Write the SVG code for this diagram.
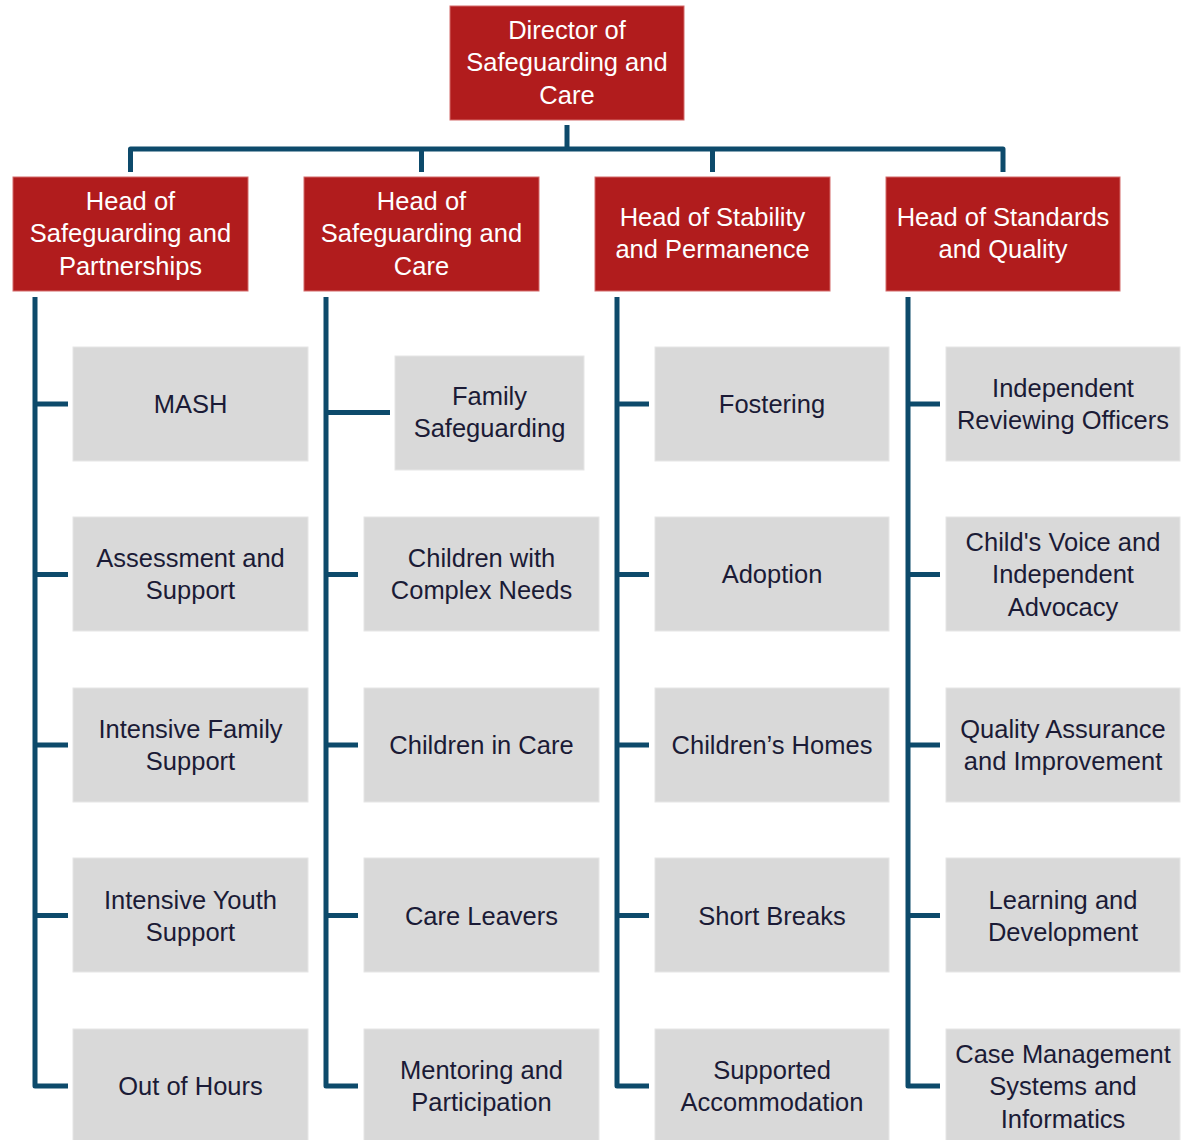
<svg xmlns="http://www.w3.org/2000/svg" width="1182" height="1140" viewBox="0 0 1182 1140">
<style>
.head rect{fill:#b11c1d;stroke:#d46a6a;stroke-width:1}
.head text{fill:#ffffff}
.unit rect{fill:#d9d9d9;stroke:#e6e6e6;stroke-width:1}
.unit text{fill:#1b1b36}
text{font-family:"Liberation Sans",Arial,sans-serif;font-size:25.5px;text-anchor:middle}
.conn path{fill:none;stroke:#0d4a6b;stroke-width:5;stroke-linejoin:round;stroke-linecap:butt}
</style>
<rect width="1182" height="1140" fill="#ffffff"/>
<g class="conn" id="connectors">
<path d="M567,125 V149"/>
<path d="M130.5,172 V149 H1003 V172"/>
<path d="M421.5,149 V172"/>
<path d="M712.5,149 V172"/>
<path d="M35,297 V1086 H68"/>
<path d="M35,404 H68"/><path d="M35,574.5 H68"/><path d="M35,745 H68"/><path d="M35,915.5 H68"/>
<path d="M326,297 V1086 H358"/>
<path d="M326,412.5 H390"/><path d="M326,574.5 H358"/><path d="M326,745 H358"/><path d="M326,915.5 H358"/>
<path d="M617,297 V1086 H649"/>
<path d="M617,404 H649"/><path d="M617,574.5 H649"/><path d="M617,745 H649"/><path d="M617,915.5 H649"/>
<path d="M908,297 V1086 H940"/>
<path d="M908,404 H940"/><path d="M908,574.5 H940"/><path d="M908,745 H940"/><path d="M908,915.5 H940"/>
</g>
<g class="head" id="director"><rect x="450" y="6" width="234" height="114"/><text x="567" y="39">Director of</text><text x="567" y="71">Safeguarding and</text><text x="567" y="104">Care</text></g>
<g class="head" id="head1"><rect x="13" y="177" width="235" height="114"/><text x="130.5" y="210">Head of</text><text x="130.5" y="242">Safeguarding and</text><text x="130.5" y="275">Partnerships</text></g>
<g class="head" id="head2"><rect x="304" y="177" width="235" height="114"/><text x="421.5" y="210">Head of</text><text x="421.5" y="242">Safeguarding and</text><text x="421.5" y="275">Care</text></g>
<g class="head" id="head3"><rect x="595" y="177" width="235" height="114"/><text x="712.5" y="226">Head of Stability</text><text x="712.5" y="258">and Permanence</text></g>
<g class="head" id="head4"><rect x="886" y="177" width="234" height="114"/><text x="1003" y="226">Head of Standards</text><text x="1003" y="258">and Quality</text></g>

<g class="unit" id="mash"><rect x="73" y="347" width="235" height="114"/><text x="190.5" y="413">MASH</text></g>
<g class="unit" id="assessment"><rect x="73" y="517" width="235" height="114"/><text x="190.5" y="567">Assessment and</text><text x="190.5" y="599">Support</text></g>
<g class="unit" id="ifs"><rect x="73" y="688" width="235" height="114"/><text x="190.5" y="738">Intensive Family</text><text x="190.5" y="770">Support</text></g>
<g class="unit" id="iys"><rect x="73" y="858" width="235" height="114"/><text x="190.5" y="909">Intensive Youth</text><text x="190.5" y="941">Support</text></g>
<g class="unit" id="ooh"><rect x="73" y="1029" width="235" height="114"/><text x="190.5" y="1095">Out of Hours</text></g>

<g class="unit" id="famsafe"><rect x="395" y="356" width="189" height="114"/><text x="489.5" y="405">Family</text><text x="489.5" y="437">Safeguarding</text></g>
<g class="unit" id="complex"><rect x="364" y="517" width="235" height="114"/><text x="481.5" y="567">Children with</text><text x="481.5" y="599">Complex Needs</text></g>
<g class="unit" id="cic"><rect x="364" y="688" width="235" height="114"/><text x="481.5" y="754">Children in Care</text></g>
<g class="unit" id="leavers"><rect x="364" y="858" width="235" height="114"/><text x="481.5" y="925">Care Leavers</text></g>
<g class="unit" id="mentoring"><rect x="364" y="1029" width="235" height="114"/><text x="481.5" y="1079">Mentoring and</text><text x="481.5" y="1111">Participation</text></g>

<g class="unit" id="fostering"><rect x="655" y="347" width="234" height="114"/><text x="772" y="413">Fostering</text></g>
<g class="unit" id="adoption"><rect x="655" y="517" width="234" height="114"/><text x="772" y="583">Adoption</text></g>
<g class="unit" id="homes"><rect x="655" y="688" width="234" height="114"/><text x="772" y="754">Children’s Homes</text></g>
<g class="unit" id="breaks"><rect x="655" y="858" width="234" height="114"/><text x="772" y="925">Short Breaks</text></g>
<g class="unit" id="supported"><rect x="655" y="1029" width="234" height="114"/><text x="772" y="1079">Supported</text><text x="772" y="1111">Accommodation</text></g>

<g class="unit" id="iro"><rect x="946" y="347" width="234" height="114"/><text x="1063" y="397">Independent</text><text x="1063" y="429">Reviewing Officers</text></g>
<g class="unit" id="voice"><rect x="946" y="517" width="234" height="114"/><text x="1063" y="551">Child's Voice and</text><text x="1063" y="583">Independent</text><text x="1063" y="616">Advocacy</text></g>
<g class="unit" id="qa"><rect x="946" y="688" width="234" height="114"/><text x="1063" y="738">Quality Assurance</text><text x="1063" y="770">and Improvement</text></g>
<g class="unit" id="learning"><rect x="946" y="858" width="234" height="114"/><text x="1063" y="909">Learning and</text><text x="1063" y="941">Development</text></g>
<g class="unit" id="cms"><rect x="946" y="1029" width="234" height="114"/><text x="1063" y="1063">Case Management</text><text x="1063" y="1095">Systems and</text><text x="1063" y="1128">Informatics</text></g>
</svg>
